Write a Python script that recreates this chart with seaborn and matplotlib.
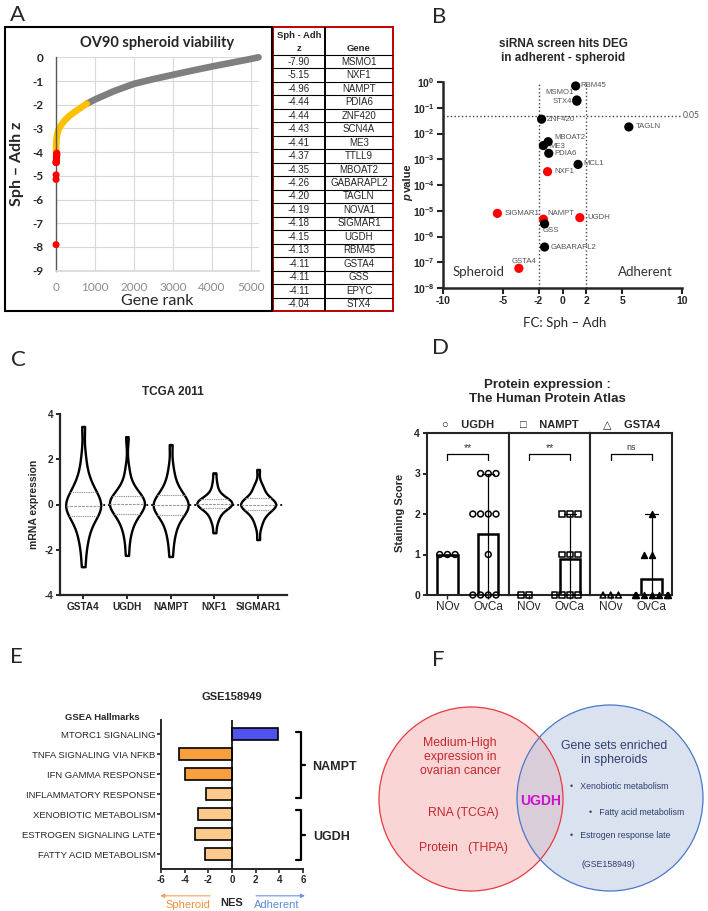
import warnings

import matplotlib
matplotlib.use("Agg")
import matplotlib.pyplot as plt
from matplotlib.patches import Circle, Rectangle
import pandas as pd
import seaborn as sns

warnings.filterwarnings("ignore")

# ---------------- data ----------------
# A: OV90 spheroid viability screen (rank curve + top hits table)
A_YELLOW_RANK = [0, 3, 10, 30, 60, 120, 230, 350, 490, 640, 790]
A_YELLOW_Z = [-4.0, -3.75, -3.5, -3.25, -3.07, -2.88, -2.65, -2.46, -2.29, -2.12, -1.96]
A_GRAY_RANK = [790, 1000, 1500, 2000, 2500, 3000, 3500, 4000, 4500, 5000, 5200]
A_GRAY_Z = [-1.96, -1.78, -1.42, -1.12, -0.92, -0.74, -0.56, -0.39, -0.23, -0.07, 0.0]
TABLE_Z = [-7.90, -5.15, -4.96, -4.44, -4.44, -4.43, -4.41, -4.37, -4.35, -4.26,
           -4.20, -4.19, -4.18, -4.15, -4.13, -4.11, -4.11, -4.11, -4.04]
TABLE_GENES = ["MSMO1", "NXF1", "NAMPT", "PDIA6", "ZNF420", "SCN4A", "ME3", "TTLL9",
               "MBOAT2", "GABARAPL2", "TAGLN", "NOVA1", "SIGMAR1", "UGDH", "RBM45",
               "GSTA4", "GSS", "EPYC", "STX4"]

# B: siRNA screen hits DEG
B_GENES = ["RBM45", "MSMO1", "STX4", "ZNF420", "TAGLN", "MBOAT2", "ME3", "PDIA6",
           "MCL1", "NXF1", "SIGMAR1", "NAMPT", "GSS", "UGDH", "GABARAPL2", "GSTA4"]
B_FC = [1.1, 1.2, 1.2, -1.75, 5.55, -1.2, -1.6, -1.15, 1.3, -1.25, -5.45, -1.6,
        -1.5, 1.45, -1.5, -3.65]
B_P = [0.7, 0.2, 0.18, 0.036, 0.018, 0.0048, 0.0034, 0.0017, 6.3e-4, 3.3e-4,
       7.9e-6, 4.7e-6, 3.1e-6, 5.4e-6, 3.9e-7, 5.8e-8]
B_HIT = [False, False, False, False, False, False, False, False, False, True,
         True, True, False, True, False, True]
B_XTICKS = [-10, -5, -2, 0, 2, 5, 10]

# C: TCGA 2011 mRNA expression (values read as quantiles of each violin)
C_GENES = ["GSTA4", "UGDH", "NAMPT", "NXF1", "SIGMAR1"]
C_GSTA4 = [-2.75, -2.0, -1.55, -1.25, -1.0, -0.8, -0.6, -0.45, -0.35, -0.28, -0.2,
           -0.15, -0.1, -0.05, 0.02, 0.1, 0.18, 0.27, 0.38, 0.5, 0.62, 0.78, 0.95,
           1.2, 1.6, 2.2, 3.45]
C_UGDH = [-2.25, -1.6, -1.2, -0.95, -0.75, -0.6, -0.45, -0.36, -0.28, -0.2, -0.13,
          -0.07, -0.02, 0.02, 0.07, 0.12, 0.17, 0.22, 0.28, 0.34, 0.42, 0.52, 0.65,
          0.82, 1.1, 1.6, 3.0]
C_NAMPT = [-2.3, -1.7, -1.3, -1.05, -0.85, -0.65, -0.5, -0.4, -0.32, -0.25, -0.18,
           -0.12, -0.08, -0.04, 0.02, 0.08, 0.14, 0.2, 0.27, 0.35, 0.45, 0.58, 0.75,
           0.95, 1.25, 1.7, 2.65]
C_NXF1 = [-1.25, -0.85, -0.65, -0.5, -0.4, -0.3, -0.2, -0.14, -0.1, -0.06, -0.03,
          0.0, 0.02, 0.04, 0.06, 0.09, 0.12, 0.15, 0.18, 0.22, 0.27, 0.33, 0.42,
          0.55, 0.75, 1.0, 1.4]
C_SIGMAR1 = [-1.55, -1.0, -0.8, -0.6, -0.48, -0.38, -0.3, -0.22, -0.16, -0.11,
             -0.07, -0.04, -0.02, 0.0, 0.02, 0.05, 0.09, 0.13, 0.18, 0.24, 0.3,
             0.38, 0.5, 0.65, 0.8, 0.88, 1.55]

# D: Human Protein Atlas staining scores
D_GENES = ["UGDH", "NAMPT", "GSTA4"]
D_MARKERS = ["o", "s", "^"]
D_SYMBOLS = ["○", "□", "△"]
D_SIG = ["**", "**", "ns"]
UGDH_NOV = [1, 1, 1]
UGDH_OVCA = [3, 3, 3, 2, 2, 2, 2, 1, 0, 0, 0, 0]
NAMPT_NOV = [0, 0]
NAMPT_OVCA = [2, 2, 2, 1, 1, 1, 0, 0, 0, 0]
GSTA4_NOV = [0, 0, 0]
GSTA4_OVCA = [2, 1, 1, 0, 0, 0, 0, 0, 0, 0]

# E: GSEA hallmarks GSE158949
E_TERMS = ["MTORC1 SIGNALING", "TNFA SIGNALING VIA NFKB", "IFN GAMMA RESPONSE",
           "INFLAMMATORY RESPONSE", "XENOBIOTIC METABOLISM",
           "ESTROGEN SIGNALING LATE", "FATTY ACID METABOLISM"]
E_NES = [3.9, -4.5, -4.0, -2.2, -2.9, -3.1, -2.3]
E_COLORS = ["#5151EC", "#F99F3E", "#F99F3E", "#FFCA8C", "#FFCA8C", "#FFCA8C", "#FFCA8C"]

# ---------------- layout helpers ----------------
W, H = 708, 911
sns.set_theme(style="ticks")
plt.rcParams["font.family"] = ["Liberation Sans", "DejaVu Sans"]
plt.rcParams["axes.unicode_minus"] = False
plt.rcParams["mathtext.fontset"] = "custom"
plt.rcParams["mathtext.rm"] = "Liberation Sans"
plt.rcParams["mathtext.bf"] = "Liberation Sans:bold"

fig = plt.figure(figsize=(W / 100, H / 100), dpi=100)


def box(l, t, r, b):
    return [l / W, 1 - b / H, (r - l) / W, (b - t) / H]


def ftext(x, y, s, **kw):
    kw.setdefault("ha", "center")
    kw.setdefault("va", "center")
    return fig.text(x / W, 1 - y / H, s, **kw)


CAL = ["Lato", "DejaVu Sans"]
for lab, (x, y) in zip("ABCDEF", [(17, 15), (439, 17), (18, 360), (440, 348), (16, 657), (438, 660)]):
    ftext(x, y, lab, fontsize=16, family=CAL)

# ---------------- A ----------------
fig.add_artist(Rectangle((5 / W, 1 - 311 / H), 267 / W, 284 / H, transform=fig.transFigure,
                         fill=False, edgecolor="black", linewidth=1.5))
axA = fig.add_axes(box(56, 57.3, 258.5, 270.7))
sns.lineplot(x=A_GRAY_RANK, y=A_GRAY_Z, color="#7F7F7F", linewidth=4.8, ax=axA,
             solid_capstyle="round", clip_on=False)
sns.lineplot(x=A_YELLOW_RANK, y=A_YELLOW_Z, color="#FFC000", linewidth=4.8, ax=axA,
             solid_capstyle="round", clip_on=False)
sns.scatterplot(x=list(range(1, len(TABLE_Z) + 1)), y=TABLE_Z, color="#FF0000", s=26,
                edgecolor="none", ax=axA, zorder=5, clip_on=False)
axA.set_xlim(0, 5200)
axA.set_ylim(-9, 0)
axA.set_xticks(range(0, 5001, 1000))
axA.set_yticks(range(-9, 1))
axA.grid(True, color="#D9D9D9", linewidth=0.8)
axA.set_axisbelow(True)
for s in ["top", "right"]:
    axA.spines[s].set_visible(False)
axA.spines["left"].set_color("#595959")
axA.spines["left"].set_linewidth(1.0)
axA.spines["bottom"].set_color("#D9D9D9")
axA.tick_params(axis="both", length=0)
axA.tick_params(axis="y", pad=9, labelsize=8.5)
axA.tick_params(axis="x", pad=8, labelsize=8.5, labelcolor="#8C8C8C")
for t in axA.get_yticklabels():
    t.set_fontweight("bold")
    t.set_family(CAL)
for t in axA.get_xticklabels():
    t.set_family(CAL)
axA.set_xlabel("")
axA.set_ylabel("")
ftext(157, 43, "OV90 spheroid viability", fontsize=10.5, fontweight="bold", family=CAL)
ftext(157, 301, "Gene rank", fontsize=11.5, family=CAL)
ftext(17, 164, "Sph – Adh z", fontsize=11.5, fontweight="bold", rotation=90, family=CAL)

# table
axT = fig.add_axes(box(273, 27, 393, 311))
axT.set_xlim(0, 1)
axT.set_ylim(284, 0)
axT.axis("off")
head_h = 28
row_h = (284 - head_h) / len(TABLE_Z)
split = 0.433
for i in range(len(TABLE_Z) + 1):
    axT.plot([0, 1], [head_h + i * row_h] * 2, color="black", lw=0.8)
axT.plot([split, split], [0, 284], color="black", lw=1.4)
axT.add_patch(Rectangle((0, 0), 1, 284, fill=False, edgecolor="#C00000", lw=1.4, clip_on=False))
axT.text(split / 2, 8, "Sph - Adh", ha="center", va="center", fontsize=6.8, fontweight="bold")
axT.text(split / 2, 21, "z", ha="center", va="center", fontsize=6.8, fontweight="bold")
axT.text((1 + split) / 2, 21, "Gene", ha="center", va="center", fontsize=6.8, fontweight="bold")
for i, (z, g) in enumerate(zip(TABLE_Z, TABLE_GENES)):
    yc = head_h + (i + 0.5) * row_h
    axT.text(split / 2, yc, f"{z:.2f}", ha="center", va="center", fontsize=7)
    axT.text((1 + split) / 2, yc, g, ha="center", va="center", fontsize=7)

# ---------------- B ----------------
axB = fig.add_axes(box(443, 82, 682, 288))
sns.scatterplot(x=B_FC, y=B_P, hue=B_HIT, palette={True: "#FF0000", False: "black"},
                s=44, edgecolor="none", legend=False, ax=axB, zorder=4, clip_on=False)
axB.set_yscale("log")
axB.set_ylim(1e-8, 1)
axB.set_xlim(-10, 10)
axB.set_xticks(B_XTICKS)
axB.set_xticklabels([str(v) for v in B_XTICKS], fontweight="bold", fontsize=7.5)
yt = [10.0 ** -k for k in range(9)]
axB.set_yticks(yt)
axB.set_yticklabels([r"$\mathbf{10^{%d}}$" % (-k) for k in range(9)], fontsize=7.5)
axB.minorticks_off()
for s in ["top", "right"]:
    axB.spines[s].set_visible(False)
for s in ["left", "bottom"]:
    axB.spines[s].set_linewidth(1.8)
axB.tick_params(width=1.5, length=4, pad=2)
for xv in [-2, 2]:
    axB.axvline(xv, ls=":", color="#444444", lw=1.0, zorder=1)
axB.plot([-10, 10.0], [0.05, 0.05], ls=":", color="#444444", lw=1.0, clip_on=False, zorder=1)
axB.text(10.1, 0.05, "0.05", fontsize=6.2, color="#555555", va="center", ha="left", family=CAL)
label_off = {
    "RBM45": (5, 0, "left"), "MSMO1": (-3, 7, "right"), "STX4": (-5, 0, "right"),
    "ZNF420": (5, 0, "left"), "TAGLN": (7, 0, "left"), "MBOAT2": (6, 4, "left"),
    "ME3": (6, -1, "left"), "PDIA6": (6, 0, "left"), "MCL1": (5, 1, "left"),
    "NXF1": (7, 0, "left"), "SIGMAR1": (7, 0, "left"), "NAMPT": (4, 6, "left"),
    "GSS": (-2, -7, "left"), "UGDH": (8, 0, "left"), "GABARAPL2": (6, 0, "left"),
    "GSTA4": (5, 7, "center"),
}
for g, xv, pv in zip(B_GENES, B_FC, B_P):
    dx, dy, ha = label_off[g]
    axB.annotate(g, (xv, pv), xytext=(dx, dy), textcoords="offset pixels", ha=ha,
                 va="center", fontsize=5.6, color="#555555")
axB.set_xlabel("")
axB.set_ylabel("")
axB.text(0.04, 0.08, "Spheroid", transform=axB.transAxes, fontsize=9.5, color="#333333",
         family=CAL, va="center")
axB.text(0.96, 0.08, "Adherent", transform=axB.transAxes, fontsize=9.5, color="#333333",
         family=CAL, va="center", ha="right")
ftext(563, 51, "siRNA screen hits DEG\nin adherent - spheroid", fontsize=8.5,
      fontweight="bold", linespacing=1.25)
ftext(565, 323, "FC: Sph – Adh", fontsize=9.5, family=CAL)
ftext(408, 198, "p", fontsize=8, fontweight="bold", style="italic", rotation=90)
ftext(408, 178, "value", fontsize=8, fontweight="bold", rotation=90)

# ---------------- C ----------------
axC = fig.add_axes(box(60, 414, 287, 595))
dfC = pd.concat([pd.DataFrame({"gene": g, "value": v})
                 for g, v in zip(C_GENES, [C_GSTA4, C_UGDH, C_NAMPT, C_NXF1, C_SIGMAR1])])
axC.axhline(0, ls=":", color="black", lw=1.3, xmin=0.02, xmax=0.99, zorder=0)
sns.violinplot(data=dfC, x="gene", y="value", order=C_GENES, color="white",
               linecolor="black", linewidth=1.7, inner="quart", cut=0, bw_adjust=0.75,
               density_norm="width", width=0.8, ax=axC,
               inner_kws=dict(color="#999999", linewidth=0.8))
axC.set_xlim(-0.53, 4.66)
axC.set_ylim(-4, 4)
axC.set_yticks([-4, -2, 0, 2, 4])
axC.set_xlabel("")
axC.set_ylabel("mRNA expression", fontsize=7.5, fontweight="bold", labelpad=4)
for s in ["top", "right"]:
    axC.spines[s].set_visible(False)
for s in ["left", "bottom"]:
    axC.spines[s].set_linewidth(1.6)
axC.tick_params(width=1.4, length=3, labelsize=7.2, pad=2)
for t in axC.get_xticklabels() + axC.get_yticklabels():
    t.set_fontweight("bold")
ftext(173, 392, "TCGA 2011", fontsize=8.5, fontweight="bold")

# ---------------- D ----------------
d_edges = [427, 508.7, 590.3, 672]
d_data = [(UGDH_NOV, UGDH_OVCA), (NAMPT_NOV, NAMPT_OVCA), (GSTA4_NOV, GSTA4_OVCA)]
for i, gene in enumerate(D_GENES):
    ax = fig.add_axes(box(d_edges[i], 433, d_edges[i + 1], 595))
    nov, ovca = d_data[i]
    df = pd.DataFrame({"group": ["NOv"] * len(nov) + ["OvCa"] * len(ovca),
                       "score": nov + ovca})
    sns.barplot(data=df, x="group", y="score", order=["NOv", "OvCa"], color="white",
                edgecolor="black", linewidth=1.8, width=0.5, saturation=1,
                errorbar=lambda v: (v.min(), v.max()), capsize=0.3,
                err_kws={"color": "black", "linewidth": 0.9}, ax=ax)
    sns.swarmplot(data=df, x="group", y="score", order=["NOv", "OvCa"], color="black",
                  marker=D_MARKERS[i], size=4.2, ax=ax, clip_on=False, zorder=5)
    for k, coll in enumerate(ax.collections):
        filled = gene == "GSTA4" and k == 1
        coll.set_facecolor("black" if filled else "none")
        coll.set_edgecolor("black")
        coll.set_linewidth(1.1)
    ax.set_xlim(-0.5, 1.5)
    ax.set_ylim(0, 4)
    ax.set_xlabel("")
    ax.set_ylabel("")
    for s in ax.spines.values():
        s.set_linewidth(1.5)
    ax.tick_params(axis="x", labelsize=8.5, length=3, width=1, pad=1)
    if i == 0:
        ax.set_yticks([0, 1, 2, 3, 4])
        ax.tick_params(axis="y", labelsize=7.5, width=1.4, length=3, pad=2)
        for t in ax.get_yticklabels():
            t.set_fontweight("bold")
    else:
        ax.set_yticks([])
    ax.plot([0, 0, 1, 1], [3.33, 3.48, 3.48, 3.33], color="black", lw=0.9)
    ax.text(0.5, 3.5 if D_SIG[i] == "**" else 3.52, D_SIG[i], ha="center", va="bottom",
            fontsize=7.5 if D_SIG[i] == "**" else 6.5, color="#333333")
    ax.text(0.5, 1.02, f"{D_SYMBOLS[i]}    {gene}", transform=ax.transAxes, ha="center",
            va="bottom", fontsize=8, fontweight="bold",
            family=["Liberation Sans", "DejaVu Sans"])
ftext(547, 392, "Protein expression :\nThe Human Protein Atlas", fontsize=9.5,
      fontweight="bold", linespacing=1.25)
ftext(400, 513, "Staining Score", fontsize=8, fontweight="bold", rotation=90)

# ---------------- E ----------------
axE = fig.add_axes(box(161, 720, 303, 869))
sns.barplot(x=E_NES, y=E_TERMS, hue=E_TERMS, palette=E_COLORS, legend=False, orient="h",
            width=0.6, edgecolor="black", linewidth=1.2, saturation=1, ax=axE)
axE.axvline(0, color="black", lw=1.2)
axE.set_xlim(-6, 6)
axE.set_ylim(6.75, -0.7)
axE.set_xticks([-6, -4, -2, 0, 2, 4, 6])
for s in ["top", "right"]:
    axE.spines[s].set_visible(False)
for s in ["left", "bottom"]:
    axE.spines[s].set_linewidth(1.4)
axE.tick_params(axis="y", labelsize=6.8, length=3, width=1.2, pad=1)
axE.tick_params(axis="x", labelsize=7, length=3, width=1.2, pad=1)
for t in axE.get_xticklabels():
    t.set_fontweight("bold")
axE.set_xlabel("")
axE.set_ylabel("")
for y0, y1 in [(-0.1, 3.2), (3.8, 6.3)]:
    axE.plot([5.45, 5.85, 5.85, 5.45], [y0, y0, y1, y1], color="black", lw=1.6,
             clip_on=False, solid_joinstyle="round")
    axE.plot([5.85, 6.2], [(y0 + y1) / 2] * 2, color="black", lw=1.6, clip_on=False)
ftext(312, 767, "NAMPT", fontsize=9, fontweight="bold", ha="left")
ftext(313, 837, "UGDH", fontsize=9, fontweight="bold", ha="left")
ftext(232, 697, "GSE158949", fontsize=8, fontweight="bold")
ftext(102, 717, "GSEA Hallmarks", fontsize=6.8, fontweight="bold")
axE.annotate("", xy=(-6.3, -0.18), xytext=(-1.6, -0.18), xycoords=("data", "axes fraction"),
             arrowprops=dict(arrowstyle="-|>", color="#F4A05A", lw=0.8, mutation_scale=6))
axE.annotate("", xy=(6.4, -0.18), xytext=(1.8, -0.18), xycoords=("data", "axes fraction"),
             arrowprops=dict(arrowstyle="-|>", color="#6A94DE", lw=0.8, mutation_scale=6))
ftext(188, 905, "Spheroid", fontsize=8, color="#F0903C")
ftext(232, 903, "NES", fontsize=8, fontweight="bold")
ftext(277, 905, "Adherent", fontsize=8, color="#5B8BD9")

# ---------------- F ----------------
axF = fig.add_axes(box(365, 690, 708, 905))
axF.set_xlim(365, 708)
axF.set_ylim(905, 690)
axF.axis("off")
axF.add_patch(Circle((471, 799), 92, facecolor="#F7B3B3", alpha=0.55, edgecolor="none"))
axF.add_patch(Circle((610, 798), 93, facecolor="#B9C7E0", alpha=0.5, edgecolor="none"))
axF.add_patch(Circle((471, 799), 92, fill=False, edgecolor="#E8393F", lw=0.9))
axF.add_patch(Circle((610, 798), 93, fill=False, edgecolor="#4A78C8", lw=0.9))
axF.text(460, 757, "Medium-High\nexpression in\novarian cancer", ha="center", va="center",
         fontsize=8.8, color="#C3252C", linespacing=1.2)
axF.text(463, 813, "RNA (TCGA)", ha="center", va="center", fontsize=8.8, color="#C3252C")
axF.text(463, 848, "Protein   (THPA)", ha="center", va="center", fontsize=8.8, color="#C3252C")
axF.text(541, 801, "UGDH", ha="center", va="center", fontsize=10, fontweight="bold",
         color="#CC11CC")
axF.text(614, 753, "Gene sets enriched\nin spheroids", ha="center", va="center",
         fontsize=8.8, color="#2E3E6E", linespacing=1.2)
axF.text(570, 787, "•   Xenobiotic metabolism", ha="left", va="center", fontsize=6.3,
         color="#2E3E6E")
axF.text(589, 813, "•   Fatty acid metabolism", ha="left", va="center", fontsize=6.3,
         color="#2E3E6E")
axF.text(570, 836, "•   Estrogen response late", ha="left", va="center", fontsize=6.3,
         color="#2E3E6E")
axF.text(582, 865, "(GSE158949)", ha="left", va="center", fontsize=6.3, color="#2E3E6E")

fig.savefig("out.png", dpi=100)
